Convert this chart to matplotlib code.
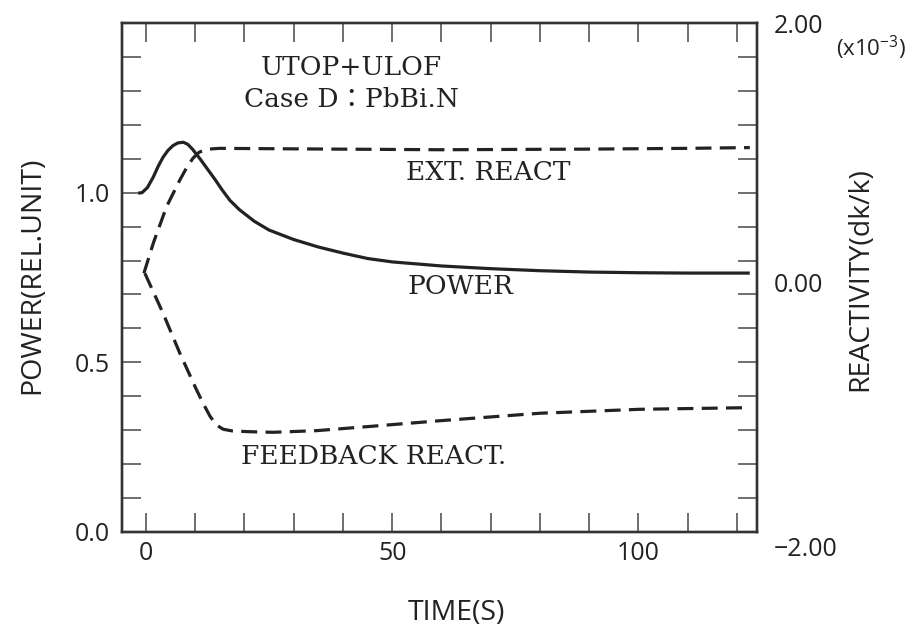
import matplotlib
matplotlib.use('Agg')
import matplotlib.pyplot as plt
import matplotlib.transforms as mtransforms
import numpy as np

plt.rcParams.update({
    'font.family': ['Open Sans', 'DejaVu Sans'],
    'mathtext.fontset': 'custom',
    'mathtext.rm': 'Open Sans',
})

INK   = '#222222'
SPINE = '#333333'
TICK  = '#555555'
SERIF = ['DejaVu Serif', 'Noto Sans CJK JP']

# ── data ─────────────────────────────────────────────────────────────────────
t_power = [-1.55, -0.8, 0.3, 1.5, 2.5, 3.5, 4.5, 5.5, 6.5, 7.6, 8.5, 9.5, 11.0,
           12.5, 14.0, 15.5, 17.1, 19.0, 22.0, 25.0, 30.0, 35.0, 40.0, 45.0,
           50.0, 60.0, 70.0, 80.0, 90.0, 100.0, 110.0, 122.6]
power   = [0.999, 1.000, 1.015, 1.046, 1.078, 1.105, 1.125, 1.139, 1.147, 1.149,
           1.143, 1.128, 1.100, 1.070, 1.040, 1.008, 0.977, 0.950, 0.916, 0.890,
           0.862, 0.840, 0.822, 0.806, 0.796, 0.784, 0.776, 0.770, 0.766, 0.764,
           0.763, 0.763]

t_ext   = [-0.4, 1.5, 4.2, 6.9, 8.3, 9.6, 10.8, 12.3, 15.0, 30.0, 60.0, 90.0,
           110.0, 122.6]
ext_rho = [0.033, 0.269, 0.557, 0.767, 0.865, 0.940, 0.985, 1.009, 1.016, 1.012,
           1.005, 1.010, 1.016, 1.022]

t_fb    = [-0.2, 3.5, 6.9, 10.3, 11.7, 13.0, 14.3, 15.7, 17.5, 20.8, 25.8, 34.7,
           44.8, 59.7, 80.0, 100.3, 122.6]
fb_rho  = [0.033, -0.282, -0.596, -0.885, -0.995, -1.090, -1.160, -1.194, -1.207,
           -1.213, -1.218, -1.205, -1.174, -1.127, -1.068, -1.037, -1.024]

x_major = [0, 50, 100]
x_minor = np.arange(0, 121, 10)
y_major = [0.0, 0.5, 1.0]
y_minor = np.arange(0, 1.51, 0.1)
rho_ticks  = [-2.0, 0.0, 2.0]
rho_labels = ['\u22122.00', '0.00', '2.00']

# ── figure ───────────────────────────────────────────────────────────────────
fig = plt.figure(figsize=(9.12, 6.29), dpi=100)
ax = fig.add_axes([0.134, 0.1547, 0.6957, 0.8083])
ax2 = ax.twinx()

ax.plot(t_power, power, color=INK, lw=2.3, solid_capstyle='butt',
        solid_joinstyle='round')
ax2.plot(t_ext, ext_rho, color=INK, lw=2.3, dashes=(5, 2.6))
ax2.plot(t_fb, fb_rho, color=INK, lw=2.3, dashes=(5, 2.6))

ax.set_xlim(-4.8, 124)
ax.set_ylim(0, 1.5)
ax2.set_ylim(-2, 2)

ax.set_xticks(x_major)
ax.set_xticks(x_minor, minor=True)
ax.set_yticks(y_major)
ax.set_yticklabels([f'{v:.1f}' for v in y_major])
ax.set_yticks(y_minor, minor=True)
ax.tick_params(which='both', direction='in', length=13.5, width=1.2, color=TICK,
               top=True, right=True, labelsize=18, labelcolor=INK)
ax.tick_params(axis='x', pad=7)
ax.tick_params(axis='y', pad=9)

ax2.set_yticks(rho_ticks)
ax2.set_yticklabels(rho_labels)
ax2.tick_params(length=0, labelsize=18, labelcolor=INK, pad=12)
# shift the lower reactivity labels down like in the original
lbls = ax2.get_yticklabels()
for lab, dy in zip(lbls, [-15, -5, 0]):
    lab.set_transform(lab.get_transform() +
                      mtransforms.ScaledTranslation(0, dy / 100, fig.dpi_scale_trans))

for a in (ax, ax2):
    for s in a.spines.values():
        s.set_color(SPINE)
        s.set_linewidth(1.7)

ax.set_xlabel('TIME(S)', fontsize=20.5, color=INK)
ax.xaxis.label.set_va('center')
ax.xaxis.set_label_coords(0.526, -0.16)
ax.set_ylabel('POWER(REL.UNIT)', fontsize=20.5, color=INK)
ax.yaxis.label.set_va('center')
ax.yaxis.set_label_coords(-0.141, 0.505)
ax2.set_ylabel('REACTIVITY(dk/k)', fontsize=20.5, color=INK)
ax2.yaxis.label.set_va('center')
ax2.yaxis.set_label_coords(1.163, 0.497)

fig.text(836 / 912, 1 - 48 / 629, '(x10$^{\\mathregular{-3}}$)', fontsize=16,
         color=INK, ha='left', va='center')

# curve annotations
ax.text(41.7, 1.37, 'UTOP+ULOF', family=SERIF, fontsize=19, color=INK,
        ha='center', va='center')
ax.text(41.7, 1.274, 'Case D\uff1aPbBi.N', family=SERIF, fontsize=19, color=INK,
        ha='center', va='center')
ax.text(69.6, 1.061, 'EXT. REACT', family=SERIF, fontsize=19, color=INK,
        ha='center', va='center')
ax.text(63.9, 0.722, 'POWER', family=SERIF, fontsize=19, color=INK,
        ha='center', va='center')
ax.text(46.2, 0.223, 'FEEDBACK REACT.', family=SERIF, fontsize=19, color=INK,
        ha='center', va='center')

fig.savefig('out.png', dpi=100)
